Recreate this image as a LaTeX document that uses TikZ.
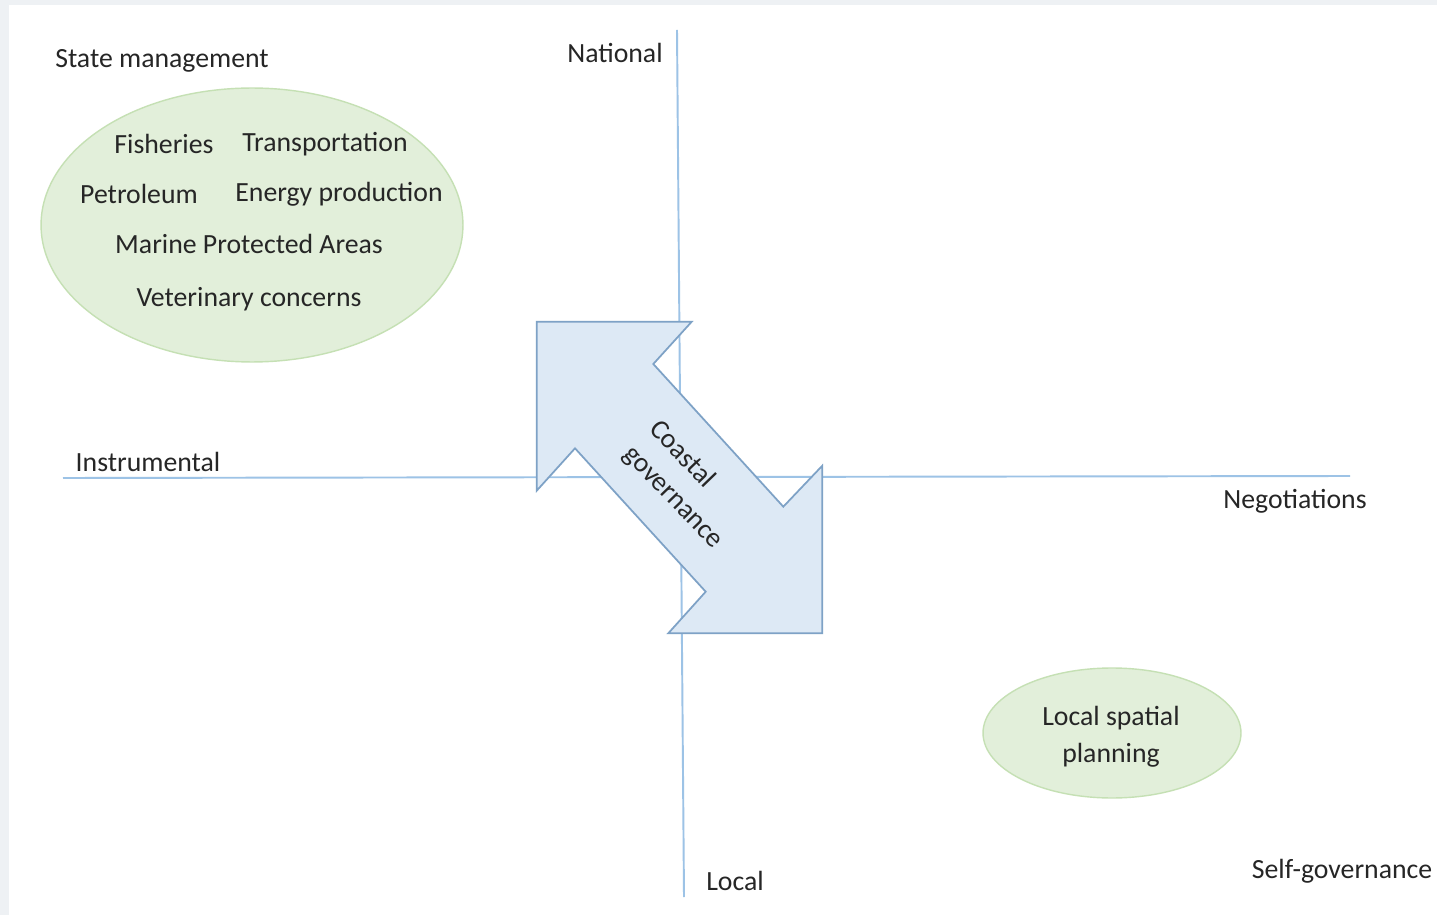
\documentclass[tikz,border=0pt]{standalone}
\usepackage{fontspec}
\setmainfont{Carlito}
\usetikzlibrary{shapes.geometric}
\definecolor{axisc}{HTML}{9DC3E6}
\definecolor{ellfill}{HTML}{E2EFDA}
\definecolor{elldraw}{HTML}{C5E0B4}
\definecolor{arrfill}{HTML}{DDE9F5}
\definecolor{arrdraw}{HTML}{7EA2C6}
\definecolor{framec}{HTML}{EEF1F4}
\definecolor{txt}{HTML}{262626}
\begin{document}
\begin{tikzpicture}[x=0.02cm,y=-0.02cm,
  lbl/.style={font=\fontsize{15.8}{19}\selectfont, text=txt, inner sep=0pt},
  axis/.style={draw=axisc, line width=1.1pt},
  blob/.style={ellipse, fill=ellfill, draw=elldraw, line width=0.8pt, inner sep=0pt}]
\useasboundingbox (0,0) rectangle (1437,915);
\fill[framec] (0,0) rectangle (1437,915);
\fill[white] (9,5) rectangle (1437,915);
% axes
\coordinate (vt) at (677,30);
\coordinate (vb) at (684,897);
\coordinate (hl) at (63,478);
\coordinate (hr) at (1350,476);
\draw[axis] (vt) -- (vb);
\draw[axis] (hl) -- (hr);
% ellipses
\node[blob, minimum width=8.44cm, minimum height=5.48cm] (big) at (252,225) {};
\node[blob, minimum width=5.16cm, minimum height=2.6cm] (small) at (1112,733) {};
% arrow
\coordinate (a1) at (536.7,321.7);
\coordinate (a2) at (691.7,321.7);
\coordinate (a3) at (653.3,364);
\coordinate (a4) at (783.3,506.7);
\coordinate (a5) at (822.3,465.7);
\coordinate (a6) at (822.3,633.3);
\coordinate (a7) at (668.3,633.3);
\coordinate (a8) at (705.7,591.7);
\coordinate (a9) at (575,448.3);
\coordinate (a10) at (536.7,490.7);
\draw[fill=arrfill, draw=arrdraw, line width=1pt, line join=miter]
  (a1) -- (a2) -- (a3) -- (a4) -- (a5) -- (a6) -- (a7) -- (a8) -- (a9) -- (a10) -- cycle;
\node[lbl, rotate=-46, align=left, font=\fontsize{15.8}{20.5}\selectfont] (cg) at (686,485) {Coastal\\governance};
% labels
\node[lbl] (sm) at (162,61) {State management};
\node[lbl] (nat) at (615,53) {National};
\node[lbl] (fish) at (164,144) {Fisheries};
\node[lbl] (trans) at (325,144) {Transportation};
\node[lbl] (pet) at (139,194) {Petroleum};
\node[lbl] (ener) at (339,194) {Energy production};
\node[lbl] (mpa) at (249,244) {Marine Protected Areas};
\node[lbl] (vet) at (249,299) {Veterinary concerns};
\node[lbl] (inst) at (148,462) {Instrumental};
\node[lbl] (neg) at (1295,501) {Negotiations};
\node[lbl, align=center, font=\fontsize{15.8}{21}\selectfont] (lsp) at (1111,737) {Local spatial\\planning};
\node[lbl] (loc) at (735,881) {Local};
\node[lbl] (sg) at (1342,871) {Self-governance};
\end{tikzpicture}
\end{document}
